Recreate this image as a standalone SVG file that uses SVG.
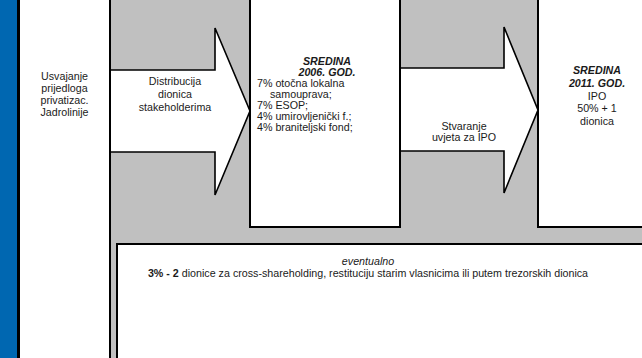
<svg xmlns="http://www.w3.org/2000/svg" width="642" height="358" viewBox="0 0 642 358">
<style>
text{font-family:"Liberation Sans",Arial,sans-serif;font-size:10.7px;fill:#1a1a1a}
.c{text-anchor:middle}
.bi{font-weight:bold;font-style:italic}
.box{fill:#fff;stroke:#000;stroke-width:2}
.arr{fill:#fff;stroke:#000;stroke-width:1.6;stroke-linejoin:miter}
</style>
<rect x="0" y="0" width="642" height="358" fill="#c0c0c0"/>
<g id="sidebar">
<rect x="0" y="0" width="17" height="358" fill="#0067b1"/>
<rect x="17" y="0" width="3" height="358" fill="#000"/>
<rect x="20" y="0" width="90" height="358" fill="#fff"/>
<rect x="109" y="0" width="2" height="358" fill="#000"/>
</g>
<g id="node-usvajanje">
<text class="c" x="64.5" y="80">Usvajanje</text>
<text class="c" x="64.5" y="92">prijedloga</text>
<text class="c" x="64.5" y="104">privatizac.</text>
<text class="c" x="64.5" y="116">Jadrolinije</text>
</g>
<g id="node-2006">
<rect class="box" x="250" y="-3" width="150" height="230"/>
<text class="c bi" x="327" y="65">SREDINA</text>
<text class="c bi" x="327" y="76">2006. GOD.</text>
<text x="257" y="87">7% otočna lokalna</text>
<text x="270" y="98">samouprava;</text>
<text x="257" y="109">7% ESOP;</text>
<text x="257" y="120">4% umirovljenički f.;</text>
<text x="257" y="131">4% braniteljski fond;</text>
</g>
<g id="node-2011">
<rect class="box" x="538" y="-3" width="110" height="230"/>
<text class="c bi" x="597" y="74">SREDINA</text>
<text class="c bi" x="597" y="87">2011. GOD.</text>
<text class="c" x="597" y="100">IPO</text>
<text class="c" x="597" y="112">50% + 1</text>
<text class="c" x="597" y="125">dionica</text>
</g>
<g id="node-eventualno">
<rect class="box" x="117" y="244" width="535" height="130"/>
<text class="c" x="368" y="265" font-style="italic">eventualno</text>
<text class="c" x="368" y="277"><tspan font-weight="bold">3% - 2</tspan> dionice za cross-shareholding, restituciju starim vlasnicima ili putem trezorskih dionica</text>
</g>
<g id="connectors">
<g id="arrow-distribucija">
<path class="arr" d="M111,70 H215 V28 L250,111 L215,195 V152 H111"/>
<text class="c" x="175" y="85">Distribucija</text>
<text class="c" x="175" y="98">dionica</text>
<text class="c" x="175" y="111">stakeholderima</text>
</g>
<g id="arrow-stvaranje">
<path class="arr" d="M401,68 H504 V27 L538,110 L504,193 V151 H401"/>
<text class="c" x="464" y="130">Stvaranje</text>
<text class="c" x="464" y="141">uvjeta za IPO</text>
</g>
</g>
</svg>
